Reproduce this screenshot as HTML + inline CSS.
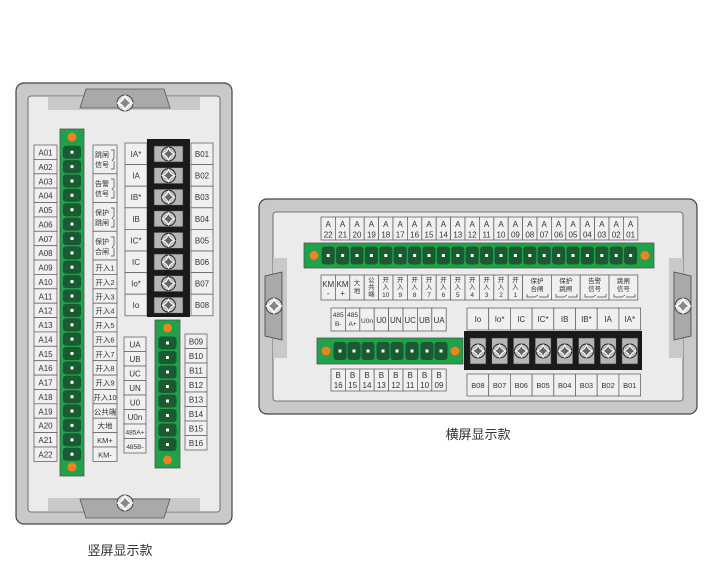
<!DOCTYPE html>
<html><head><meta charset="utf-8"><style>
body{margin:0;background:#fff;width:718px;height:581px;overflow:hidden}
svg text{font-family:"Liberation Sans","Noto Sans CJK SC",sans-serif;fill:#333;text-anchor:middle}
</style></head><body>
<svg width="718" height="581" viewBox="0 0 718 581" xmlns="http://www.w3.org/2000/svg">
<defs>
<g id="sc"><circle r="7" fill="#bdbdbd" stroke="#222" stroke-width="1"/><path d="M0,-6 Q1.5,-1.5 6,0 Q1.5,1.5 0,6 Q-1.5,1.5 -6,0 Q-1.5,-1.5 0,-6Z" fill="#666" stroke="#fff" stroke-width="1"/></g>
<g id="bs"><circle r="8" fill="#ddd" stroke="#444"/><path d="M0,-7 Q2,-2 7,0 Q2,2 0,7 Q-2,2 -7,0 Q-2,-2 0,-7Z" fill="#888" stroke="#fff" stroke-width="1.5"/></g>
<g id="gc"><rect x="-9" y="-6.5" width="18" height="13" rx="3" fill="#1a5a33"/><rect x="-1.5" y="-1.5" width="3" height="3" fill="#fff"/></g>
<g id="gh"><rect x="-6.5" y="-9" width="13" height="18" rx="3" fill="#1a5a33"/><rect x="-1.5" y="-1.5" width="3" height="3" fill="#fff"/></g>
</defs>
<g stroke="#555" stroke-width="0.8">
<!-- vertical panel -->
<rect x="16" y="83" width="216" height="441" rx="8" fill="#c9c9c9" stroke="#444" stroke-width="1.2"/>
<rect x="28" y="96" width="192" height="416" rx="3" fill="#ebebeb"/>
<path d="M48,97 H200 V110 H48Z" fill="#c9c9c9" stroke="none"/>
<path d="M80,108 L86,89 H164 L170,108Z" fill="#a9a9a9"/>
<path d="M48,498 H200 V511 H48Z" fill="#c9c9c9" stroke="none"/>
<path d="M80,499 L86,518 H164 L170,499Z" fill="#a9a9a9"/>
</g>
<use href="#bs" x="125" y="103"/><use href="#bs" x="125" y="503"/>
<!-- A column -->
<g fill="#f0f0f0" stroke="#666" stroke-width="0.8">
<rect x="34" y="145" width="23" height="14.4"/><rect x="34" y="159.4" width="23" height="14.4"/><rect x="34" y="173.8" width="23" height="14.4"/><rect x="34" y="188.1" width="23" height="14.4"/><rect x="34" y="202.5" width="23" height="14.4"/><rect x="34" y="216.9" width="23" height="14.4"/><rect x="34" y="231.3" width="23" height="14.4"/><rect x="34" y="245.7" width="23" height="14.4"/><rect x="34" y="260" width="23" height="14.4"/><rect x="34" y="274.4" width="23" height="14.4"/><rect x="34" y="288.8" width="23" height="14.4"/><rect x="34" y="303.2" width="23" height="14.4"/><rect x="34" y="317.6" width="23" height="14.4"/><rect x="34" y="331.9" width="23" height="14.4"/><rect x="34" y="346.3" width="23" height="14.4"/><rect x="34" y="360.7" width="23" height="14.4"/><rect x="34" y="375.1" width="23" height="14.4"/><rect x="34" y="389.5" width="23" height="14.4"/><rect x="34" y="403.8" width="23" height="14.4"/><rect x="34" y="418.2" width="23" height="14.4"/><rect x="34" y="432.6" width="23" height="14.4"/><rect x="34" y="447" width="23" height="14.4"/>
</g>
<g font-size="8">
<text x="45.5" y="155.5">A01</text><text x="45.5" y="169.9">A02</text><text x="45.5" y="184.3">A03</text><text x="45.5" y="198.6">A04</text><text x="45.5" y="213">A05</text><text x="45.5" y="227.4">A06</text><text x="45.5" y="241.8">A07</text><text x="45.5" y="256.2">A08</text><text x="45.5" y="270.5">A09</text><text x="45.5" y="284.9">A10</text><text x="45.5" y="299.3">A11</text><text x="45.5" y="313.7">A12</text><text x="45.5" y="328.1">A13</text><text x="45.5" y="342.4">A14</text><text x="45.5" y="356.8">A15</text><text x="45.5" y="371.2">A16</text><text x="45.5" y="385.6">A17</text><text x="45.5" y="400">A18</text><text x="45.5" y="414.3">A19</text><text x="45.5" y="428.7">A20</text><text x="45.5" y="443.1">A21</text><text x="45.5" y="457.5">A22</text>
</g>
<!-- green strip 1 -->
<rect x="60" y="129" width="24" height="347" fill="#1fa24a" stroke="#555" stroke-width="0.8"/>
<circle cx="72" cy="137" r="4.5" fill="#f08020"/><circle cx="72" cy="467" r="4.5" fill="#f08020"/>
<g>
<use href="#gc" x="72" y="152.2"/><use href="#gc" x="72" y="166.6"/><use href="#gc" x="72" y="181"/><use href="#gc" x="72" y="195.3"/><use href="#gc" x="72" y="209.7"/><use href="#gc" x="72" y="224.1"/><use href="#gc" x="72" y="238.5"/><use href="#gc" x="72" y="252.9"/><use href="#gc" x="72" y="267.2"/><use href="#gc" x="72" y="281.6"/><use href="#gc" x="72" y="296"/><use href="#gc" x="72" y="310.4"/><use href="#gc" x="72" y="324.8"/><use href="#gc" x="72" y="339.1"/><use href="#gc" x="72" y="353.5"/><use href="#gc" x="72" y="367.9"/><use href="#gc" x="72" y="382.3"/><use href="#gc" x="72" y="396.7"/><use href="#gc" x="72" y="411"/><use href="#gc" x="72" y="425.4"/><use href="#gc" x="72" y="439.8"/><use href="#gc" x="72" y="454.2"/>
</g>
<!-- middle labels -->
<g fill="#f0f0f0" stroke="#666" stroke-width="0.8">
<rect x="93" y="145" width="24" height="28.8"/><rect x="93" y="173.8" width="24" height="28.7"/><rect x="93" y="202.5" width="24" height="28.8"/><rect x="93" y="231.3" width="24" height="28.7"/>
<rect x="93" y="260" width="24" height="14.4"/><rect x="93" y="274.4" width="24" height="14.4"/><rect x="93" y="288.8" width="24" height="14.4"/><rect x="93" y="303.2" width="24" height="14.4"/><rect x="93" y="317.6" width="24" height="14.3"/><rect x="93" y="331.9" width="24" height="14.4"/><rect x="93" y="346.3" width="24" height="14.4"/><rect x="93" y="360.7" width="24" height="14.4"/><rect x="93" y="375.1" width="24" height="14.4"/><rect x="93" y="389.5" width="24" height="14.3"/><rect x="93" y="403.8" width="24" height="14.4"/><rect x="93" y="418.2" width="24" height="14.4"/><rect x="93" y="432.6" width="24" height="14.4"/><rect x="93" y="447" width="24" height="14.4"/>
</g>
<g font-size="7" style="text-anchor:start">
<text x="95" y="157" style="text-anchor:start">跳闸</text><text x="95" y="167" style="text-anchor:start">信号</text>
<text x="95" y="186" style="text-anchor:start">告警</text><text x="95" y="196" style="text-anchor:start">信号</text>
<text x="95" y="215" style="text-anchor:start">保护</text><text x="95" y="225" style="text-anchor:start">跳闸</text>
<text x="95" y="244" style="text-anchor:start">保护</text><text x="95" y="254" style="text-anchor:start">合闸</text>
</g>
<g fill="none" stroke="#444" stroke-width="0.7"><path d="M111,150 h3 v8 l-2,3 M114,161 v8 h-3"/><path d="M111,179 h3 v8 l-2,3 M114,190 v8 h-3"/><path d="M111,208 h3 v8 l-2,3 M114,219 v8 h-3"/><path d="M111,237 h3 v8 l-2,3 M114,248 v8 h-3"/></g>
<g font-size="7.5">
<text x="105" y="270.5">开入1</text><text x="105" y="284.9">开入2</text><text x="105" y="299.3">开入3</text><text x="105" y="313.7">开入4</text><text x="105" y="328.1">开入5</text><text x="105" y="342.4">开入6</text><text x="105" y="356.8">开入7</text><text x="105" y="371.2">开入8</text><text x="105" y="385.6">开入9</text><text x="105" y="400">开入10</text><text x="105" y="414.3">公共端</text><text x="105" y="428.7">大地</text><text x="105" y="443.1">KM+</text><text x="105" y="457.5">KM-</text>
</g>
<!-- current column vertical -->
<g fill="#f0f0f0" stroke="#666" stroke-width="0.8">
<rect x="125" y="143" width="22" height="21.6"/><rect x="125" y="164.6" width="22" height="21.6"/><rect x="125" y="186.2" width="22" height="21.6"/><rect x="125" y="207.8" width="22" height="21.6"/><rect x="125" y="229.4" width="22" height="21.6"/><rect x="125" y="251" width="22" height="21.6"/><rect x="125" y="272.6" width="22" height="21.6"/><rect x="125" y="294.2" width="22" height="21.6"/>
<rect x="191" y="143" width="22" height="21.6"/><rect x="191" y="164.6" width="22" height="21.6"/><rect x="191" y="186.2" width="22" height="21.6"/><rect x="191" y="207.8" width="22" height="21.6"/><rect x="191" y="229.4" width="22" height="21.6"/><rect x="191" y="251" width="22" height="21.6"/><rect x="191" y="272.6" width="22" height="21.6"/><rect x="191" y="294.2" width="22" height="21.6"/>
</g>
<g font-size="8">
<text x="136" y="157">IA*</text><text x="136" y="178.6">IA</text><text x="136" y="200.2">IB*</text><text x="136" y="221.8">IB</text><text x="136" y="243.4">IC*</text><text x="136" y="265">IC</text><text x="136" y="286.6">Io*</text><text x="136" y="308.2">Io</text>
<text x="202" y="157">B01</text><text x="202" y="178.6">B02</text><text x="202" y="200.2">B03</text><text x="202" y="221.8">B04</text><text x="202" y="243.4">B05</text><text x="202" y="265">B06</text><text x="202" y="286.6">B07</text><text x="202" y="308.2">B08</text>
</g>
<rect x="147" y="139" width="43" height="178" fill="#1a1a1a"/>
<g fill="#b5b5b5" stroke="#333" stroke-width="0.6">
<rect x="154" y="146" width="29" height="16"/><rect x="154" y="167.6" width="29" height="16"/><rect x="154" y="189.2" width="29" height="16"/><rect x="154" y="210.8" width="29" height="16"/><rect x="154" y="232.4" width="29" height="16"/><rect x="154" y="254" width="29" height="16"/><rect x="154" y="275.6" width="29" height="16"/><rect x="154" y="297.2" width="29" height="16"/>
</g>
<use href="#sc" x="168.5" y="154"/><use href="#sc" x="168.5" y="175.6"/><use href="#sc" x="168.5" y="197.2"/><use href="#sc" x="168.5" y="218.8"/><use href="#sc" x="168.5" y="240.4"/><use href="#sc" x="168.5" y="262"/><use href="#sc" x="168.5" y="283.6"/><use href="#sc" x="168.5" y="305.2"/>
<!-- green strip 2 -->
<rect x="155" y="320" width="25" height="148" fill="#1fa24a" stroke="#555" stroke-width="0.8"/>
<circle cx="167.5" cy="328" r="4.5" fill="#f08020"/><circle cx="167.5" cy="460" r="4.5" fill="#f08020"/>
<use href="#gc" x="167.5" y="343"/><use href="#gc" x="167.5" y="357.5"/><use href="#gc" x="167.5" y="372"/><use href="#gc" x="167.5" y="386.5"/><use href="#gc" x="167.5" y="401"/><use href="#gc" x="167.5" y="415.5"/><use href="#gc" x="167.5" y="430"/><use href="#gc" x="167.5" y="444.5"/>
<g fill="#f0f0f0" stroke="#666" stroke-width="0.8">
<rect x="124" y="337" width="22" height="14.5"/><rect x="124" y="351.5" width="22" height="14.5"/><rect x="124" y="366" width="22" height="14.5"/><rect x="124" y="380.5" width="22" height="14.5"/><rect x="124" y="395" width="22" height="14.5"/><rect x="124" y="409.5" width="22" height="14.5"/><rect x="124" y="424" width="22" height="14.5"/><rect x="124" y="438.5" width="22" height="14.5"/>
<rect x="185" y="334" width="22" height="14.5"/><rect x="185" y="348.5" width="22" height="14.5"/><rect x="185" y="363" width="22" height="14.5"/><rect x="185" y="377.5" width="22" height="14.5"/><rect x="185" y="392" width="22" height="14.5"/><rect x="185" y="406.5" width="22" height="14.5"/><rect x="185" y="421" width="22" height="14.5"/><rect x="185" y="435.5" width="22" height="14.5"/>
</g>
<g font-size="8">
<text x="135" y="347.5">UA</text><text x="135" y="362">UB</text><text x="135" y="376.5">UC</text><text x="135" y="391">UN</text><text x="135" y="405.5">U0</text><text x="135" y="420">U0n</text><text x="135" y="434.5" font-size="6.5">485A+</text><text x="135" y="449" font-size="6.5">485B-</text>
<text x="196" y="344.5">B09</text><text x="196" y="359">B10</text><text x="196" y="373.5">B11</text><text x="196" y="388">B12</text><text x="196" y="402.5">B13</text><text x="196" y="417">B14</text><text x="196" y="431.5">B15</text><text x="196" y="446">B16</text>
</g>
<text x="120" y="555" font-size="13">竖屏显示款</text>

<!-- horizontal panel -->
<rect x="259" y="199" width="438" height="215" rx="8" fill="#c9c9c9" stroke="#444" stroke-width="1.2"/>
<rect x="273" y="212" width="410" height="189" rx="3" fill="#ebebeb" stroke="#555" stroke-width="0.8"/>
<rect x="273" y="258" width="14" height="100" fill="#c9c9c9"/><rect x="669" y="258" width="14" height="100" fill="#c9c9c9"/>
<path d="M265,276 L282,272 V340 L265,336Z" fill="#a9a9a9" stroke="#444" stroke-width="0.8"/>
<path d="M691,276 L674,272 V340 L691,336Z" fill="#a9a9a9" stroke="#444" stroke-width="0.8"/>
<use href="#bs" x="274" y="306"/><use href="#bs" x="683" y="306"/>
<g fill="#f0f0f0" stroke="#666" stroke-width="0.8">
<rect x="321" y="217" width="14.4" height="23"/><rect x="335.4" y="217" width="14.4" height="23"/><rect x="349.8" y="217" width="14.4" height="23"/><rect x="364.2" y="217" width="14.4" height="23"/><rect x="378.6" y="217" width="14.4" height="23"/><rect x="393" y="217" width="14.4" height="23"/><rect x="407.4" y="217" width="14.4" height="23"/><rect x="421.8" y="217" width="14.4" height="23"/><rect x="436.2" y="217" width="14.4" height="23"/><rect x="450.6" y="217" width="14.4" height="23"/><rect x="465" y="217" width="14.4" height="23"/><rect x="479.4" y="217" width="14.4" height="23"/><rect x="493.8" y="217" width="14.4" height="23"/><rect x="508.2" y="217" width="14.4" height="23"/><rect x="522.6" y="217" width="14.4" height="23"/><rect x="537" y="217" width="14.4" height="23"/><rect x="551.4" y="217" width="14.4" height="23"/><rect x="565.8" y="217" width="14.4" height="23"/><rect x="580.2" y="217" width="14.4" height="23"/><rect x="594.6" y="217" width="14.4" height="23"/><rect x="609" y="217" width="14.4" height="23"/><rect x="623.4" y="217" width="14.4" height="23"/>
</g>
<g font-size="8">
<text x="328.2" y="227">A</text><text x="342.6" y="227">A</text><text x="357" y="227">A</text><text x="371.4" y="227">A</text><text x="385.8" y="227">A</text><text x="400.2" y="227">A</text><text x="414.6" y="227">A</text><text x="429" y="227">A</text><text x="443.4" y="227">A</text><text x="457.8" y="227">A</text><text x="472.2" y="227">A</text><text x="486.6" y="227">A</text><text x="501" y="227">A</text><text x="515.4" y="227">A</text><text x="529.8" y="227">A</text><text x="544.2" y="227">A</text><text x="558.6" y="227">A</text><text x="573" y="227">A</text><text x="587.4" y="227">A</text><text x="601.8" y="227">A</text><text x="616.2" y="227">A</text><text x="630.6" y="227">A</text>
<text x="328.2" y="237.5">22</text><text x="342.6" y="237.5">21</text><text x="357" y="237.5">20</text><text x="371.4" y="237.5">19</text><text x="385.8" y="237.5">18</text><text x="400.2" y="237.5">17</text><text x="414.6" y="237.5">16</text><text x="429" y="237.5">15</text><text x="443.4" y="237.5">14</text><text x="457.8" y="237.5">13</text><text x="472.2" y="237.5">12</text><text x="486.6" y="237.5">11</text><text x="501" y="237.5">10</text><text x="515.4" y="237.5">09</text><text x="529.8" y="237.5">08</text><text x="544.2" y="237.5">07</text><text x="558.6" y="237.5">06</text><text x="573" y="237.5">05</text><text x="587.4" y="237.5">04</text><text x="601.8" y="237.5">03</text><text x="616.2" y="237.5">02</text><text x="630.6" y="237.5">01</text>
</g>
<rect x="304" y="243" width="350" height="25" fill="#1fa24a" stroke="#555" stroke-width="0.8"/>
<circle cx="314" cy="255.5" r="4.5" fill="#f08020"/><circle cx="645" cy="255.5" r="4.5" fill="#f08020"/>
<g>
<use href="#gh" x="328.2" y="255.5"/><use href="#gh" x="342.6" y="255.5"/><use href="#gh" x="357" y="255.5"/><use href="#gh" x="371.4" y="255.5"/><use href="#gh" x="385.8" y="255.5"/><use href="#gh" x="400.2" y="255.5"/><use href="#gh" x="414.6" y="255.5"/><use href="#gh" x="429" y="255.5"/><use href="#gh" x="443.4" y="255.5"/><use href="#gh" x="457.8" y="255.5"/><use href="#gh" x="472.2" y="255.5"/><use href="#gh" x="486.6" y="255.5"/><use href="#gh" x="501" y="255.5"/><use href="#gh" x="515.4" y="255.5"/><use href="#gh" x="529.8" y="255.5"/><use href="#gh" x="544.2" y="255.5"/><use href="#gh" x="558.6" y="255.5"/><use href="#gh" x="573" y="255.5"/><use href="#gh" x="587.4" y="255.5"/><use href="#gh" x="601.8" y="255.5"/><use href="#gh" x="616.2" y="255.5"/><use href="#gh" x="630.6" y="255.5"/>
</g>
<g fill="#f0f0f0" stroke="#666" stroke-width="0.8">
<rect x="321" y="275" width="14.4" height="25"/><rect x="335.4" y="275" width="14.4" height="25"/><rect x="349.8" y="275" width="14.4" height="25"/><rect x="364.2" y="275" width="14.4" height="25"/><rect x="378.6" y="275" width="14.4" height="25"/><rect x="393" y="275" width="14.4" height="25"/><rect x="407.4" y="275" width="14.4" height="25"/><rect x="421.8" y="275" width="14.4" height="25"/><rect x="436.2" y="275" width="14.4" height="25"/><rect x="450.6" y="275" width="14.4" height="25"/><rect x="465" y="275" width="14.4" height="25"/><rect x="479.4" y="275" width="14.4" height="25"/><rect x="493.8" y="275" width="14.4" height="25"/><rect x="508.2" y="275" width="14.4" height="25"/>
<rect x="522.6" y="275" width="28.8" height="25"/><rect x="551.4" y="275" width="28.8" height="25"/><rect x="580.2" y="275" width="28.8" height="25"/><rect x="609" y="275" width="28.8" height="25"/>
</g>
<g font-size="8">
<text x="328.2" y="287">KM</text><text x="328.2" y="296">-</text><text x="342.6" y="287">KM</text><text x="342.6" y="296">+</text>
</g>
<g font-size="6.5">
<text x="357" y="285">大</text><text x="357" y="293">地</text>
<text x="371.4" y="282">公</text><text x="371.4" y="289">共</text><text x="371.4" y="296">端</text>
<text x="385.8" y="282">开</text><text x="385.8" y="289">入</text><text x="385.8" y="297">10</text>
<text x="400.2" y="282">开</text><text x="400.2" y="289">入</text><text x="400.2" y="297">9</text>
<text x="414.6" y="282">开</text><text x="414.6" y="289">入</text><text x="414.6" y="297">8</text>
<text x="429" y="282">开</text><text x="429" y="289">入</text><text x="429" y="297">7</text>
<text x="443.4" y="282">开</text><text x="443.4" y="289">入</text><text x="443.4" y="297">6</text>
<text x="457.8" y="282">开</text><text x="457.8" y="289">入</text><text x="457.8" y="297">5</text>
<text x="472.2" y="282">开</text><text x="472.2" y="289">入</text><text x="472.2" y="297">4</text>
<text x="486.6" y="282">开</text><text x="486.6" y="289">入</text><text x="486.6" y="297">3</text>
<text x="501" y="282">开</text><text x="501" y="289">入</text><text x="501" y="297">2</text>
<text x="515.4" y="282">开</text><text x="515.4" y="289">入</text><text x="515.4" y="297">1</text>
<text x="537" y="283">保护</text><text x="537" y="291">合闸</text>
<text x="565.8" y="283">保护</text><text x="565.8" y="291">跳闸</text>
<text x="594.6" y="283">告警</text><text x="594.6" y="291">信号</text>
<text x="623.4" y="283">跳闸</text><text x="623.4" y="291">信号</text>
</g>
<g fill="none" stroke="#444" stroke-width="0.7"><path d="M527,294 v3 h8 l3,-2 M539,297 h9 v-3"/><path d="M556,294 v3 h8 l3,-2 M568,297 h9 v-3"/><path d="M585,294 v3 h8 l3,-2 M597,297 h9 v-3"/><path d="M614,294 v3 h8 l3,-2 M626,297 h9 v-3"/></g>
<!-- 485 group -->
<g fill="#f0f0f0" stroke="#666" stroke-width="0.8">
<rect x="331" y="308" width="14.4" height="23"/><rect x="345.4" y="308" width="14.4" height="23"/><rect x="359.8" y="308" width="14.4" height="23"/><rect x="374.2" y="308" width="14.4" height="23"/><rect x="388.6" y="308" width="14.4" height="23"/><rect x="403" y="308" width="14.4" height="23"/><rect x="417.4" y="308" width="14.4" height="23"/><rect x="431.8" y="308" width="14.4" height="23"/>
<rect x="331" y="369" width="14.4" height="22"/><rect x="345.4" y="369" width="14.4" height="22"/><rect x="359.8" y="369" width="14.4" height="22"/><rect x="374.2" y="369" width="14.4" height="22"/><rect x="388.6" y="369" width="14.4" height="22"/><rect x="403" y="369" width="14.4" height="22"/><rect x="417.4" y="369" width="14.4" height="22"/><rect x="431.8" y="369" width="14.4" height="22"/>
</g>
<g font-size="6.5"><text x="338.2" y="317">485</text><text x="338.2" y="326">B-</text><text x="352.6" y="317">485</text><text x="352.6" y="326">A+</text><text x="367" y="323">U0n</text></g>
<g font-size="8">
<text x="381.4" y="323">U0</text><text x="395.8" y="323">UN</text><text x="410.2" y="323">UC</text><text x="424.6" y="323">UB</text><text x="439" y="323">UA</text>
<text x="338.2" y="378">B</text><text x="352.6" y="378">B</text><text x="367" y="378">B</text><text x="381.4" y="378">B</text><text x="395.8" y="378">B</text><text x="410.2" y="378">B</text><text x="424.6" y="378">B</text><text x="439" y="378">B</text>
<text x="338.2" y="388">16</text><text x="352.6" y="388">15</text><text x="367" y="388">14</text><text x="381.4" y="388">13</text><text x="395.8" y="388">12</text><text x="410.2" y="388">11</text><text x="424.6" y="388">10</text><text x="439" y="388">09</text>
</g>
<rect x="317" y="338" width="146" height="26" fill="#1fa24a" stroke="#555" stroke-width="0.8"/>
<circle cx="326" cy="351" r="4.5" fill="#f08020"/><circle cx="455" cy="351" r="4.5" fill="#f08020"/>
<use href="#gh" x="340" y="351"/><use href="#gh" x="354" y="351"/><use href="#gh" x="368" y="351"/><use href="#gh" x="383" y="351"/><use href="#gh" x="397" y="351"/><use href="#gh" x="412" y="351"/><use href="#gh" x="427" y="351"/><use href="#gh" x="441" y="351"/>
<!-- current horizontal -->
<g fill="#f0f0f0" stroke="#666" stroke-width="0.8">
<rect x="467" y="308" width="21.7" height="22"/><rect x="488.7" y="308" width="21.7" height="22"/><rect x="510.4" y="308" width="21.7" height="22"/><rect x="532.1" y="308" width="21.7" height="22"/><rect x="553.8" y="308" width="21.7" height="22"/><rect x="575.5" y="308" width="21.7" height="22"/><rect x="597.2" y="308" width="21.7" height="22"/><rect x="618.9" y="308" width="21.7" height="22"/>
<rect x="467" y="374" width="21.7" height="22"/><rect x="488.7" y="374" width="21.7" height="22"/><rect x="510.4" y="374" width="21.7" height="22"/><rect x="532.1" y="374" width="21.7" height="22"/><rect x="553.8" y="374" width="21.7" height="22"/><rect x="575.5" y="374" width="21.7" height="22"/><rect x="597.2" y="374" width="21.7" height="22"/><rect x="618.9" y="374" width="21.7" height="22"/>
</g>
<g font-size="8">
<text x="477.9" y="322">Io</text><text x="499.6" y="322">Io*</text><text x="521.3" y="322">IC</text><text x="543" y="322">IC*</text><text x="564.7" y="322">IB</text><text x="586.4" y="322">IB*</text><text x="608.1" y="322">IA</text><text x="629.8" y="322">IA*</text>
<text x="477.9" y="388" font-size="7.5">B08</text><text x="499.6" y="388" font-size="7.5">B07</text><text x="521.3" y="388" font-size="7.5">B06</text><text x="543" y="388" font-size="7.5">B05</text><text x="564.7" y="388" font-size="7.5">B04</text><text x="586.4" y="388" font-size="7.5">B03</text><text x="608.1" y="388" font-size="7.5">B02</text><text x="629.8" y="388" font-size="7.5">B01</text>
</g>
<rect x="464" y="331" width="178" height="39" fill="#1a1a1a"/>
<g fill="#b5b5b5" stroke="#333" stroke-width="0.6">
<rect x="470" y="338" width="16" height="26"/><rect x="491.7" y="338" width="16" height="26"/><rect x="513.4" y="338" width="16" height="26"/><rect x="535.1" y="338" width="16" height="26"/><rect x="556.8" y="338" width="16" height="26"/><rect x="578.5" y="338" width="16" height="26"/><rect x="600.2" y="338" width="16" height="26"/><rect x="621.9" y="338" width="16" height="26"/>
</g>
<use href="#sc" x="478" y="351"/><use href="#sc" x="499.7" y="351"/><use href="#sc" x="521.4" y="351"/><use href="#sc" x="543.1" y="351"/><use href="#sc" x="564.8" y="351"/><use href="#sc" x="586.5" y="351"/><use href="#sc" x="608.2" y="351"/><use href="#sc" x="629.9" y="351"/>
<text x="478" y="439" font-size="13">横屏显示款</text>
</svg>
</body></html>
